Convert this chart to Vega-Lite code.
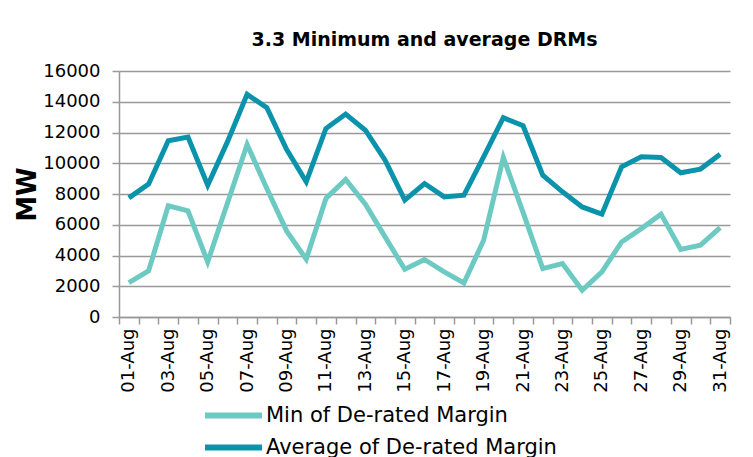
{
  "$schema": "https://vega.github.io/schema/vega-lite/v6.json",
  "width": 611,
  "height": 246,
  "autosize": "none",
  "padding": {"left": 119, "top": 71, "right": 23, "bottom": 140},
  "background": "white",
  "title": {
    "text": "3.3 Minimum and average DRMs",
    "font": "DejaVu Sans",
    "fontSize": 19,
    "fontWeight": "bold",
    "color": "#000000",
    "anchor": "middle",
    "offset": 12
  },
  "config": {
    "view": {"stroke": null},
    "font": "DejaVu Sans"
  },
  "data": {
    "values": [
      {"date": "01-Aug", "series": "Min of De-rated Margin", "value": 2240},
      {"date": "02-Aug", "series": "Min of De-rated Margin", "value": 3000},
      {"date": "03-Aug", "series": "Min of De-rated Margin", "value": 7230},
      {"date": "04-Aug", "series": "Min of De-rated Margin", "value": 6900},
      {"date": "05-Aug", "series": "Min of De-rated Margin", "value": 3580},
      {"date": "06-Aug", "series": "Min of De-rated Margin", "value": 7400},
      {"date": "07-Aug", "series": "Min of De-rated Margin", "value": 11220},
      {"date": "08-Aug", "series": "Min of De-rated Margin", "value": 8360},
      {"date": "09-Aug", "series": "Min of De-rated Margin", "value": 5600},
      {"date": "10-Aug", "series": "Min of De-rated Margin", "value": 3760},
      {"date": "11-Aug", "series": "Min of De-rated Margin", "value": 7710},
      {"date": "12-Aug", "series": "Min of De-rated Margin", "value": 8950},
      {"date": "13-Aug", "series": "Min of De-rated Margin", "value": 7340},
      {"date": "14-Aug", "series": "Min of De-rated Margin", "value": 5210},
      {"date": "15-Aug", "series": "Min of De-rated Margin", "value": 3100},
      {"date": "16-Aug", "series": "Min of De-rated Margin", "value": 3740},
      {"date": "17-Aug", "series": "Min of De-rated Margin", "value": 2930},
      {"date": "18-Aug", "series": "Min of De-rated Margin", "value": 2210},
      {"date": "19-Aug", "series": "Min of De-rated Margin", "value": 4990},
      {"date": "20-Aug", "series": "Min of De-rated Margin", "value": 10380},
      {"date": "21-Aug", "series": "Min of De-rated Margin", "value": 6800},
      {"date": "22-Aug", "series": "Min of De-rated Margin", "value": 3150},
      {"date": "23-Aug", "series": "Min of De-rated Margin", "value": 3480},
      {"date": "24-Aug", "series": "Min of De-rated Margin", "value": 1740},
      {"date": "25-Aug", "series": "Min of De-rated Margin", "value": 2930},
      {"date": "26-Aug", "series": "Min of De-rated Margin", "value": 4880},
      {"date": "27-Aug", "series": "Min of De-rated Margin", "value": 5750},
      {"date": "28-Aug", "series": "Min of De-rated Margin", "value": 6690},
      {"date": "29-Aug", "series": "Min of De-rated Margin", "value": 4390},
      {"date": "30-Aug", "series": "Min of De-rated Margin", "value": 4670},
      {"date": "31-Aug", "series": "Min of De-rated Margin", "value": 5820},
      {"date": "01-Aug", "series": "Average of De-rated Margin", "value": 7750},
      {"date": "02-Aug", "series": "Average of De-rated Margin", "value": 8640},
      {"date": "03-Aug", "series": "Average of De-rated Margin", "value": 11460},
      {"date": "04-Aug", "series": "Average of De-rated Margin", "value": 11700},
      {"date": "05-Aug", "series": "Average of De-rated Margin", "value": 8570},
      {"date": "06-Aug", "series": "Average of De-rated Margin", "value": 11390},
      {"date": "07-Aug", "series": "Average of De-rated Margin", "value": 14480},
      {"date": "08-Aug", "series": "Average of De-rated Margin", "value": 13610},
      {"date": "09-Aug", "series": "Average of De-rated Margin", "value": 10900},
      {"date": "10-Aug", "series": "Average of De-rated Margin", "value": 8790},
      {"date": "11-Aug", "series": "Average of De-rated Margin", "value": 12260},
      {"date": "12-Aug", "series": "Average of De-rated Margin", "value": 13200},
      {"date": "13-Aug", "series": "Average of De-rated Margin", "value": 12150},
      {"date": "14-Aug", "series": "Average of De-rated Margin", "value": 10200},
      {"date": "15-Aug", "series": "Average of De-rated Margin", "value": 7600},
      {"date": "16-Aug", "series": "Average of De-rated Margin", "value": 8680},
      {"date": "17-Aug", "series": "Average of De-rated Margin", "value": 7810},
      {"date": "18-Aug", "series": "Average of De-rated Margin", "value": 7920},
      {"date": "19-Aug", "series": "Average of De-rated Margin", "value": 10420},
      {"date": "20-Aug", "series": "Average of De-rated Margin", "value": 12960},
      {"date": "21-Aug", "series": "Average of De-rated Margin", "value": 12440},
      {"date": "22-Aug", "series": "Average of De-rated Margin", "value": 9220},
      {"date": "23-Aug", "series": "Average of De-rated Margin", "value": 8140},
      {"date": "24-Aug", "series": "Average of De-rated Margin", "value": 7160},
      {"date": "25-Aug", "series": "Average of De-rated Margin", "value": 6690},
      {"date": "26-Aug", "series": "Average of De-rated Margin", "value": 9770},
      {"date": "27-Aug", "series": "Average of De-rated Margin", "value": 10420},
      {"date": "28-Aug", "series": "Average of De-rated Margin", "value": 10380},
      {"date": "29-Aug", "series": "Average of De-rated Margin", "value": 9380},
      {"date": "30-Aug", "series": "Average of De-rated Margin", "value": 9620},
      {"date": "31-Aug", "series": "Average of De-rated Margin", "value": 10590}
    ]
  },
  "mark": {"type": "line", "strokeWidth": 5, "strokeJoin": "miter"},
  "encoding": {
    "x": {
      "field": "date",
      "type": "ordinal",
      "sort": null,
      "scale": {"type": "band", "paddingInner": 0, "paddingOuter": 0},
      "axis": {
        "title": null,
        "tickBand": "extent",
        "labelAngle": -90,
        "labelAlign": "right",
        "labelBaseline": "middle",
        "labelFontSize": 18,
        "labelColor": "#000000",
        "labelPadding": 4,
        "labelOverlap": false,
        "labelExpr": "parseInt(substring(datum.value,0,2)) % 2 == 1 ? datum.value : ''",
        "domainColor": "#999999",
        "domainWidth": 1.5,
        "tickColor": "#999999",
        "tickWidth": 1.5,
        "tickSize": 7,
        "grid": false
      }
    },
    "y": {
      "field": "value",
      "type": "quantitative",
      "scale": {"domain": [0, 16000], "nice": false},
      "axis": {
        "title": "MW",
        "titleFontSize": 26,
        "titleFontWeight": "bold",
        "titleColor": "#000000",
        "titlePadding": 2,
        "values": [0, 2000, 4000, 6000, 8000, 10000, 12000, 14000, 16000],
        "format": "d",
        "labelFontSize": 18,
        "labelColor": "#000000",
        "labelPadding": 12,
        "domainColor": "#999999",
        "domainWidth": 1.5,
        "tickColor": "#999999",
        "tickWidth": 1.5,
        "tickSize": 7,
        "grid": true,
        "gridColor": "#999999",
        "gridWidth": 1.5
      }
    },
    "color": {
      "field": "series",
      "type": "nominal",
      "scale": {
        "domain": ["Min of De-rated Margin", "Average of De-rated Margin"],
        "range": ["#6CCAC2", "#0A93AB"]
      },
      "legend": {
        "title": null,
        "orient": "none",
        "legendX": 102,
        "legendY": 332,
        "direction": "vertical",
        "symbolType": "M-3,0H3",
        "symbolSize": 361,
        "symbolStrokeWidth": 6,
        "symbolFillColor": "transparent",
        "labelFontSize": 21,
        "labelColor": "#000000",
        "labelOffset": 20,
        "rowPadding": 7,
        "labelLimit": 400
      }
    }
  }
}
